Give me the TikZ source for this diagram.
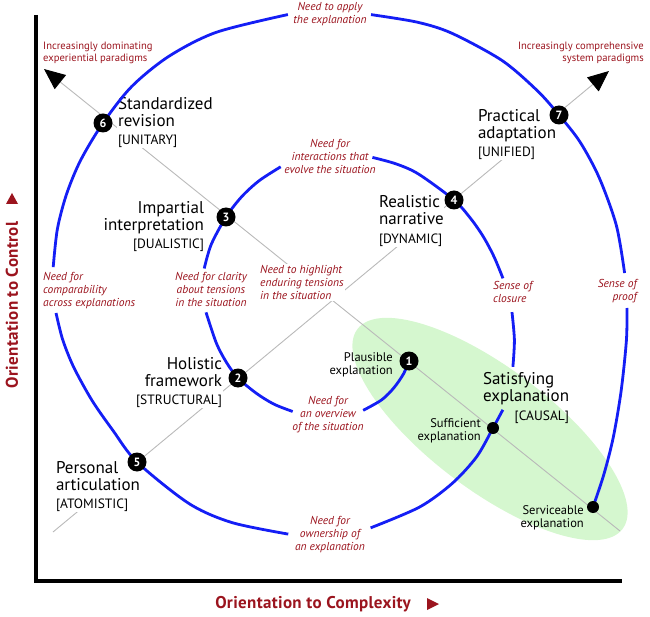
\documentclass[tikz,border=0pt]{standalone}
\usepackage{fontspec}
\setmainfont{PT Sans}
\usetikzlibrary{arrows.meta}
\definecolor{labred}{RGB}{155,20,30}
\definecolor{spblue}{RGB}{20,30,245}
\definecolor{lgreen}{RGB}{213,247,207}
\definecolor{lgray}{RGB}{185,185,185}
\newcommand\tagtxt[1]{{\fontsize{13.5}{14}\selectfont[#1]}}
\begin{document}
\begin{tikzpicture}[x=1pt,y=-1pt,
  spir/.style={draw=spblue, line width=2.8pt, line cap=butt},
  diagline/.style={draw=lgray, line width=0.9pt},
  stage/.style={circle, fill=black, inner sep=0pt, minimum size=19pt, text=white, font=\bfseries\fontsize{12}{12}\selectfont},
  smalldot/.style={circle, fill=black, inner sep=0pt, minimum size=12pt},
  stagelbl/.style={font=\fontsize{17}{17}\selectfont, inner sep=0.8pt, fill=white},
  minorlbl/.style={font=\fontsize{12.5}{13}\selectfont, inner sep=0pt},
  need/.style={font=\itshape\fontsize{11.5}{13}\selectfont, text=labred, inner sep=0pt},
  trend/.style={font=\fontsize{10.6}{11.5}\selectfont, text=labred, inner sep=0pt},
  axislbl/.style={font=\bfseries\fontsize{17}{17}\selectfont\addfontfeature{LetterSpace=2}, text=labred, inner sep=0pt},
]
\useasboundingbox (0,0) rectangle (650,617);
% green ellipse
\fill[lgreen, rotate around={-37:(490,429)}] (490,429) ellipse [x radius=166pt, y radius=61pt];
% axes
\draw[line width=4pt] (36,15) -- (36,580.5) -- (622,580.5);
% diagonal lines
\coordinate (tipA) at (44,69);
\coordinate (endA) at (620,531);
\coordinate (tipB) at (609,71);
\coordinate (endB) at (53,532);
\draw[diagline, -{Triangle[length=21pt,width=18pt,color=black]}] (endA) -- (tipA);
\draw[diagline, -{Triangle[length=21pt,width=18pt,color=black]}] (endB) -- (tipB);
% labels with white background
\node[stagelbl, anchor=north west, align=left] (t6) at (117,96.4) {Standardized\\revision\\[1pt]\tagtxt{UNITARY}};
\node[stagelbl, anchor=north west, align=left] (t7) at (477,108.4) {Practical\\adaptation\\[1pt]\tagtxt{UNIFIED}};
\node[stagelbl, anchor=north east, align=right] (t3) at (205,200.4) {Impartial\\interpretation\\[1pt]\tagtxt{DUALISTIC}};
\node[stagelbl, anchor=north west, align=left] (t4) at (378,194.4) {Realistic\\narrative\\[2pt]\tagtxt{DYNAMIC}};
\node[stagelbl, anchor=north east, align=right] (t2) at (223,356.4) {Holistic\\framework\\[1pt]\tagtxt{STRUCTURAL}};
\node[stagelbl, anchor=north west, align=left] (t5) at (55,460.4) {Personal\\articulation\\[1pt]\tagtxt{ATOMISTIC}};
\node[need, fill=white, inner sep=1pt, anchor=north west, align=left] (nhigh) at (259,264) {Need to highlight\\enduring tensions\\in the situation};
% marker positions
\coordinate (p1) at (409,361);
\coordinate (p2) at (238,378);
\coordinate (p3) at (226,217);
\coordinate (p4) at (454,200);
\coordinate (p5) at (137,462);
\coordinate (p6) at (103,123);
\coordinate (p7) at (559,115);
\coordinate (psu) at (493,428);
\coordinate (pse) at (593,507);
% spiral (polar points around a common centre)
\begin{scope}[shift={(340,310)}]
\draw[spir] plot[smooth] coordinates {(p1) (-45:90pt) (-55:94.5pt) (-65:99pt) (-77:103pt)};
\draw[spir] plot[smooth] coordinates {(-115:112pt) (-125:115pt) (-135:118pt) (p2) (-155:125pt) (-165:128pt) (-179:134pt)};
\draw[spir] plot[smooth] coordinates {(-197:142pt) (-207:144.5pt) (p3) (-229:150pt) (-238:152.5pt) (-247.5:155pt)};
\draw[spir] plot[smooth] coordinates {(-282:156pt) (-291:156.5pt) (-300:157pt) (p4) (-325:159.5pt) (-333:161pt) (-341:163pt) (-349:166pt)};
\draw[spir] plot[smooth] coordinates {(-360.7:172pt) (-369.8:177pt) (-378.2:182pt)};
\draw[spir] plot[smooth] coordinates {(-391.5:191pt) (psu) (-407:200.5pt) (-417:206.5pt) (-428:212.5pt) (-442:220pt)};
\draw[spir] plot[smooth] coordinates {(-463:230pt) (-477:238.5pt) (-488:245.5pt) (p5) (-512:257pt) (-520:264pt) (-528:272.5pt) (-534:279pt) (-539.4:284pt)};
\draw[spir] plot[smooth] coordinates {(-548.5:290pt) (-556:294pt) (-563:297pt) (-570:299.5pt) (p6) (-587:305.5pt) (-596:306pt) (-606:304pt) (-620:300pt)};
\draw[spir] plot[smooth] coordinates {(-636:297pt) (-645:298pt) (-652:298.5pt) (-663:297.5pt) (-672:295pt) (p7) (-685:293pt) (-693:291pt) (-703:289pt) (-712.6:287pt)};
\draw[spir] plot[smooth] coordinates {(-719.6:287pt) (-726:288pt) (-736:292.5pt) (-745:301.5pt) (-752:311pt) (pse)};
\end{scope}
% stage markers
\node[stage] (n1) at (p1) {1};
\node[stage] (n2) at (p2) {2};
\node[stage] (n3) at (p3) {3};
\node[stage] (n4) at (p4) {4};
\node[stage] (n5) at (p5) {5};
\node[stage] (n6) at (p6) {6};
\node[stage] (n7) at (p7) {7};
\node[smalldot] (suff) at (psu) {};
\node[smalldot] (serv) at (pse) {};
% labels in the green area
\node[stagelbl, fill=none, anchor=north west, align=left] (t1) at (482,371.4) {Satisfying\\explanation};
\node[stagelbl, fill=none, anchor=east] (tc) at (570,417) {\tagtxt{CAUSAL}};
\node[minorlbl, anchor=north east, align=right] (lpl) at (393,352) {Plausible\\explanation};
\node[minorlbl, anchor=north east, align=right] (lsu) at (481,418) {Sufficient\\explanation};
\node[minorlbl, anchor=north east, align=right] (lse) at (584,505) {Serviceable\\explanation};
% red need labels
\node[need, anchor=north, align=center] (napply) at (330,2.5) {Need to apply\\the explanation};
\node[need, anchor=north, align=center] (ninter) at (330,139) {Need for\\interactions that\\evolve the situation};
\node[need, anchor=north west, align=left] (ncomp) at (43,272) {Need for\\comparability\\across explanations};
\node[need, anchor=north, align=center] (nclar) at (211,272) {Need for clarity\\about tensions\\in the situation};
\node[need, anchor=north west, align=left] (nclos) at (493,281) {Sense of\\closure};
\node[need, anchor=north east, align=right] (nproof) at (637,279) {Sense of\\proof};
\node[need, anchor=north, align=center] (nover) at (328,396) {Need for\\an overview\\of the situation};
\node[need, anchor=north, align=center] (nown) at (330,516) {Need for\\ownership of\\an explanation};
\node[trend, anchor=north west, align=left] (tdom) at (43,42) {Increasingly dominating\\experiential paradigms};
\node[trend, anchor=north east, align=right] (tcomp) at (644,42) {Increasingly comprehensive\\system paradigms};
% axis titles
\node[axislbl] (xlab) at (313,604) {Orientation to Complexity};
\fill[labred] (427,598) -- (427,610) -- (439,604) -- cycle;
\node[axislbl, rotate=90] (ylab) at (12,305) {Orientation to Control};
\fill[labred] (6,204) -- (18,204) -- (12,193) -- cycle;
\end{tikzpicture}
\end{document}
